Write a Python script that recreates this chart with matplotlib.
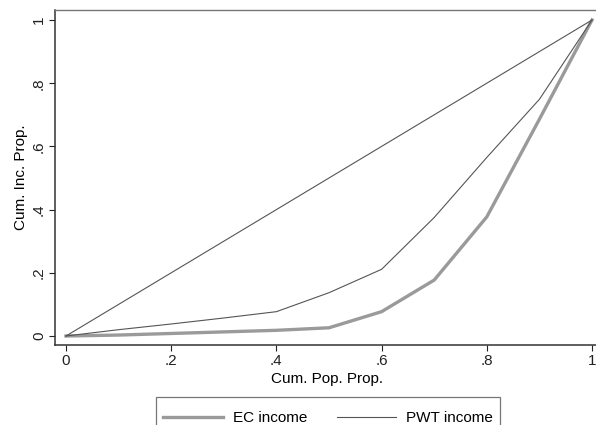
import matplotlib
matplotlib.use("Agg")
import matplotlib.pyplot as plt

plt.rcParams['font.family'] = ['Liberation Sans', 'DejaVu Sans']

pop_prop = [0, .1, .2, .3, .4, .5, .6, .7, .8, .9, 1]
ec_income = [0, .003, .008, .013, .018, .026, .077, .177, .377, .686, 1]
pwt_income = [0, .02, .038, .057, .077, .137, .211, .375, .565, .749, 1]
equality = [0, .1, .2, .3, .4, .5, .6, .7, .8, .9, 1]

xticks = [0, .2, .4, .6, .8, 1]
xtick_labels = ["0", ".2", ".4", ".6", ".8", "1"]
yticks = [0, .2, .4, .6, .8, 1]
ytick_labels = ["0", ".2", ".4", ".6", ".8", "1"]

W, H = 596, 425
FS = 11
fig = plt.figure(figsize=(W / 100, H / 100), dpi=100)
ax = fig.add_axes([55 / W, 1 - 345 / H, (599 - 55) / W, (345 - 10) / H])

ec_line, = ax.plot(pop_prop, ec_income, color='#9a9a9a', lw=2.4,
                   solid_joinstyle='round', label='EC income', zorder=3)
pwt_line, = ax.plot(pop_prop, pwt_income, color='#555555', lw=0.8,
                    label='PWT income', zorder=4)
ax.plot(pop_prop, equality, color='#555555', lw=0.8, zorder=4)

ax.set_xlim((55 - 66) / 526, (599 - 66) / 526)
ax.set_ylim(-9 / 316, 1 + 10 / 316)

ax.set_xticks(xticks)
ax.set_xticklabels(xtick_labels)
ax.set_yticks(yticks)
ax.set_yticklabels(ytick_labels, rotation=90, va='center')
ax.tick_params(direction='out', length=4, width=0.8, colors='#222222',
               labelsize=FS, pad=2.5)

for side in ['left', 'bottom']:
    ax.spines[side].set_color('#333333')
    ax.spines[side].set_linewidth(1.1)
ax.spines['top'].set_color('#777777')
ax.spines['top'].set_linewidth(1.0)
ax.spines['right'].set_visible(False)

ax.set_xlabel("Cum. Pop. Prop.", fontsize=FS, labelpad=2.5)
ax.set_ylabel("Cum. Inc. Prop.", fontsize=FS, labelpad=3)

leg = fig.legend(handles=[ec_line, pwt_line], loc='upper left',
                 bbox_to_anchor=(156 / W, 1 - 397 / H), ncol=2,
                 frameon=True, fancybox=False, fontsize=FS,
                 title=' ', title_fontsize=4, labelspacing=0.1,
                 handlelength=3.89, columnspacing=1.95, handletextpad=0.65,
                 borderpad=0.48, borderaxespad=0)
leg.get_frame().set_edgecolor('#555555')
leg.get_frame().set_linewidth(0.9)

fig.savefig("out.png", dpi=100)
